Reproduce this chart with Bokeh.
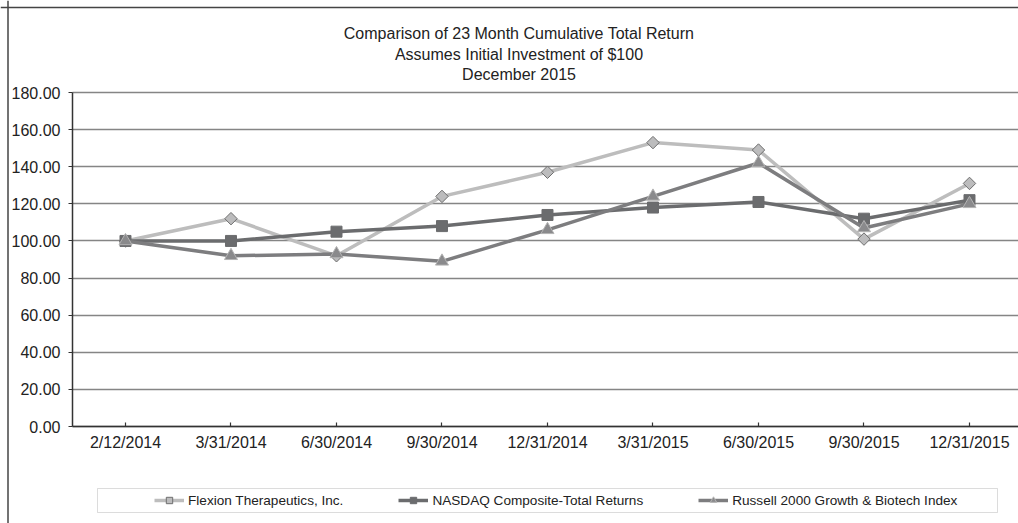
import math
from bokeh.plotting import figure
from bokeh.models import (Range1d, FixedTicker, NumeralTickFormatter, Legend, LegendItem,
                          Label, BoxAnnotation, ColumnDataSource, Grid, Span)
from bokeh.embed import file_html
from bokeh.resources import INLINE

# ---- data ----
dates = ["2/12/2014", "3/31/2014", "6/30/2014", "9/30/2014", "12/31/2014",
         "3/31/2015", "6/30/2015", "9/30/2015", "12/31/2015"]
flexion = [100, 112, 92, 124, 137, 153, 149, 101, 131]
nasdaq = [100, 100, 105, 108, 114, 118, 121, 112, 122]
russell = [100, 92, 93, 89, 106, 124, 142, 107, 120]
series_names = ["Flexion Therapeutics, Inc.", "NASDAQ Composite-Total Returns",
                "Russell 2000 Growth & Biotech Index"]
title_lines = ["Comparison of 23 Month Cumulative Total Return",
               "Assumes Initial Investment of $100", "December 2015"]
y_ticks = [0, 20, 40, 60, 80, 100, 120, 140, 160, 180]

FONT = "Liberation Sans"
TXT = "#222222"
W, H = 1018, 523

xs = list(range(len(dates)))

# frame covers the whole canvas; axes are drawn at fixed locations inside it
X0, X1 = -1.1848, 8.4645
Y0, Y1 = -52.27, 229.58
XL = -0.5024  # x value where the y axis sits
PXX = W / (X1 - X0)
PXY = H / (Y1 - Y0)

p = figure(width=W, height=H, output_backend="svg", toolbar_location=None,
           x_range=Range1d(X0, X1), y_range=Range1d(Y0, Y1),
           min_border=0, min_border_left=0, min_border_right=0,
           min_border_top=0, min_border_bottom=0)
p.outline_line_color = None
p.background_fill_color = "white"
p.border_fill_color = "white"

p.xaxis.fixed_location = 0
p.yaxis.fixed_location = XL
p.xaxis.bounds = (XL, X1)
p.yaxis.bounds = (0, 180)

p.xaxis.ticker = FixedTicker(ticks=xs)
p.xaxis.major_label_overrides = {i: d for i, d in enumerate(dates)}
p.xaxis.major_tick_in = 4
p.xaxis.major_tick_out = 0
p.xaxis.minor_tick_line_color = None
p.xaxis.major_label_standoff = 7
p.yaxis.ticker = FixedTicker(ticks=y_ticks)
p.yaxis.formatter = NumeralTickFormatter(format="0.00")
p.yaxis.major_tick_in = 0
p.yaxis.major_tick_out = 4
p.yaxis.minor_tick_line_color = None
p.yaxis.major_label_standoff = 8
for ax in (p.xaxis, p.yaxis):
    ax.axis_line_color = "#333333"
    ax.axis_line_width = 1.5
    ax.major_tick_line_color = "#333333"
    ax.major_tick_line_width = 1.2
    ax.major_label_text_font = FONT
    ax.major_label_text_font_size = "16px"
    ax.major_label_text_color = TXT

p.xgrid.grid_line_color = None
p.ygrid.ticker = FixedTicker(ticks=y_ticks)
p.ygrid.grid_line_color = "#858585"
p.ygrid.grid_line_width = 1.5
p.ygrid.bounds = (0, 180)
if "cross_bounds" in Grid.properties():
    p.ygrid.cross_bounds = (XL, X1)

# series
src = ColumnDataSource(dict(x=xs, f=flexion, n=nasdaq, r=russell))

lf = p.line("x", "f", source=src, line_color="#bdbdbd", line_width=3.5)
mf = p.scatter("x", "f", source=src, marker="square", size=8.8, angle=math.pi / 4,
               fill_color="#bcbcbd", line_color="#6e6e6e", line_width=1)
ln = p.line("x", "n", source=src, line_color="#6b6c6e", line_width=3.5)
mn = p.scatter("x", "n", source=src, marker="square", size=11,
               fill_color="#6b6c6e", line_color="#6b6c6e", line_width=1)
lr = p.line("x", "r", source=src, line_color="#7d7d7f", line_width=3.5)
mr = p.scatter("x", "r", source=src, marker="triangle", size=13,
               fill_color="#8a8a8c", line_color="#b4b4b4", line_width=1)

# outer border: left and top edges only
p.add_layout(Span(location=X0 + 7.5 / PXX, dimension="height",
                  line_color="#444444", line_width=1.5))
p.add_layout(Span(location=Y1 - 7.0 / PXY, dimension="width",
                  line_color="#444444", line_width=1.5))

# legend box (canvas units)
p.add_layout(BoxAnnotation(left=97, right=997, top=488, bottom=512,
                           left_units="canvas", right_units="canvas",
                           top_units="canvas", bottom_units="canvas",
                           fill_alpha=0, line_color="#8a8a8a", line_width=1))

legend = Legend(items=[LegendItem(label=series_names[0], renderers=[lf, mf]),
                       LegendItem(label=series_names[1], renderers=[ln, mn]),
                       LegendItem(label=series_names[2], renderers=[lr, mr])],
                orientation="horizontal", location=(154, 15), padding=0, margin=0,
                spacing=55, glyph_width=30, glyph_height=16, label_height=16,
                label_standoff=4,
                label_text_font=FONT, label_text_font_size="13.6px", label_text_color=TXT,
                border_line_color=None, background_fill_alpha=0)
p.add_layout(legend, "center")

# title lines
for txt, yy in zip(title_lines, [H - 33.3, H - 54, H - 74]):
    p.add_layout(Label(x=518.5, y=yy, x_units="screen", y_units="screen", text=txt,
                       text_align="center", text_baseline="middle", text_font=FONT,
                       text_font_size="16px", text_color=TXT))

open("out.html", "w").write(file_html(p, INLINE))
